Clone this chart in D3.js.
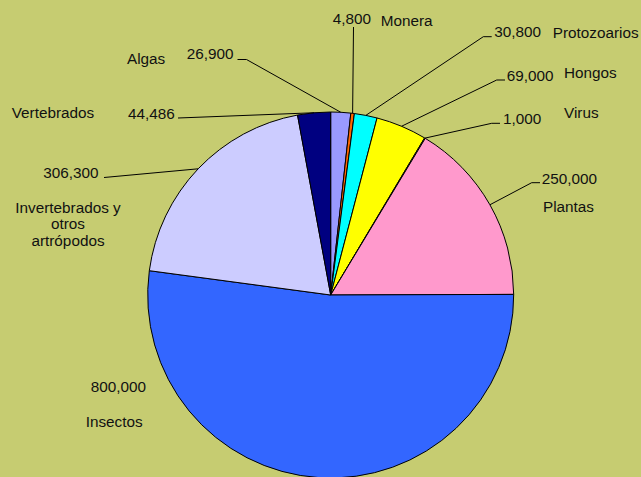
<!DOCTYPE html>
<html>
<head>
<meta charset="utf-8">
<script src="https://cdn.jsdelivr.net/npm/d3@7"></script>
<style>
  html, body { margin: 0; padding: 0; background: #C6CC71; }
  svg { display: block; }
  text { font-family: "Liberation Sans", Arial, sans-serif; font-size: 15.3px; fill: #111; }
</style>
</head>
<body>
<svg id="chart" width="641" height="477"></svg>
<script>
// Estimated number of species per group of living beings
const categories = ["Algas", "Monera", "Protozoarios", "Hongos", "Virus", "Plantas",
                    "Insectos", "Invertebrados y otros artrópodos", "Vertebrados"];
const values = [26900, 4800, 30800, 69000, 1000, 250000, 800000, 306300, 44486];
const nameLines = [["Algas"], ["Monera"], ["Protozoarios"], ["Hongos"], ["Virus"], ["Plantas"],
                   ["Insectos"], ["Invertebrados y", "otros", "artrópodos"], ["Vertebrados"]];

// Slice fills, in category order
const palette = ["#9999FF", "#FF6600", "#00FFFF", "#FFFF00", "#FFFFCC", "#FF99CC",
                 "#3366FF", "#CCCCFF", "#000080"];

// Label placement: value text (x, baseline, anchor), name text, and leader line start/elbow
const labelLayout = [
  { vx: 186.7, vy: 59.3,  nx: 127,   ny: 64.3,  lead: [[237.5, 59.5], [246.5, 59.5]] },
  { vx: 332.7, vy: 23.5,  nx: 380.7, ny: 26,    lead: [[353.5, 27], [353.5, 27]] },
  { vx: 494.3, vy: 37.3,  nx: 552.7, ny: 38,    lead: [[491.7, 36.7], [483.3, 36.7]] },
  { vx: 506.7, vy: 80.8,  nx: 564,   ny: 77.7,  lead: [[505, 80], [496.7, 80]] },
  { vx: 503,   vy: 124,   nx: 564,   ny: 118.3, lead: [[500, 123.3], [491.7, 123.3]] },
  { vx: 541.7, vy: 184.3, nx: 543,   ny: 212,   lead: [[540, 182.7], [531.7, 182.7]] },
  { vx: 90.7,  vy: 392.3, nx: 85.7,  ny: 426.5, lead: null },
  { vx: 43.3,  vy: 178.3, nx: 68,    ny: 212.5, lineGap: 16.6, center: true, lead: [[104, 177.5], [104, 177.5]] },
  { vx: 128,   vy: 118.5, nx: 11.7,  ny: 118.3, lead: [[178, 118], [178, 118]] }
];

const cx = 330.7, cy = 295, radius = 183;
const fmt = d3.format(",");

const svg = d3.select("#chart");
svg.append("rect").attr("width", 641).attr("height", 477).attr("fill", "#C6CC71");

const data = categories.map((c, i) => ({ name: c, value: values[i], idx: i }));

const pie = d3.pie().sort(null).value(d => d.value);
const arcs = pie(data);

const arc = d3.arc().innerRadius(0).outerRadius(radius);
const rim = d3.arc().innerRadius(radius).outerRadius(radius);

const g = svg.append("g").attr("transform", `translate(${cx},${cy})`);

g.selectAll("path.slice")
  .data(arcs)
  .join("path")
  .attr("class", "slice")
  .attr("d", arc)
  .attr("fill", d => palette[d.data.idx])
  .attr("stroke", "#000")
  .attr("stroke-width", 1)
  .attr("stroke-linejoin", "round");

// Leader lines from each label to the middle of its slice's outer edge
const line = d3.line();
arcs.forEach(a => {
  const L = labelLayout[a.data.idx];
  if (!L.lead) return;
  const c = rim.centroid(a);
  const anchor = [cx + c[0], cy + c[1]];
  svg.append("path")
    .attr("d", line([L.lead[0], L.lead[1], anchor]))
    .attr("fill", "none")
    .attr("stroke", "#000")
    .attr("stroke-width", 1);
});

// Value and name labels
arcs.forEach(a => {
  const i = a.data.idx;
  const L = labelLayout[i];
  svg.append("text")
    .attr("x", L.vx).attr("y", L.vy)
    .text(fmt(a.data.value));
  const t = svg.append("text")
    .attr("x", L.nx).attr("y", L.ny)
    .attr("text-anchor", L.center ? "middle" : "start");
  nameLines[i].forEach((s, k) => {
    t.append("tspan")
      .attr("x", L.nx)
      .attr("dy", k === 0 ? 0 : L.lineGap)
      .text(s);
  });
});
</script>
</body>
</html>
